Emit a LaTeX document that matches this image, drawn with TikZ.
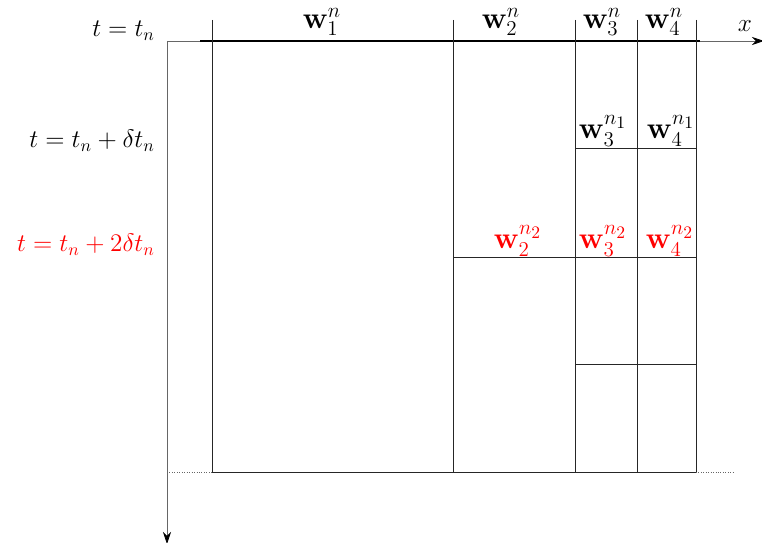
\documentclass[tikz,border=0pt]{standalone}
\usepackage{amsmath,amssymb}
\usepackage{xcolor}
\usepackage{tikz}
\usetikzlibrary{arrows.meta,positioning}

\begin{document}
\begin{tikzpicture}[
  x=0.02cm,y=-0.02cm,
  axis/.style={-{Stealth[length=2.4mm,width=1.6mm,black]},thin,black!60},
  cell/.style={draw=black!85,thin},
  edge/.style={draw=black,semithick},
  lab/.style={font=\Large,inner sep=1pt},
  wlab/.style={font=\LARGE,inner sep=1pt},
  newlab/.style={wlab,text=red}
]
\useasboundingbox (0,0) rectangle (762,543);
% axes
\coordinate (o) at (167,41);
\coordinate (xend) at (764,41);
\coordinate (tend) at (167,544);
\draw[axis] (o) -- (xend);
\draw[axis] (o) -- (tend);
\node[lab] (xlab) at (745,26) {$x$};
% top edge and bottom line
\coordinate (top1) at (200,41);
\coordinate (top2) at (700,41);
\draw[edge] (top1) -- (top2);
\coordinate (bot0) at (167,472);
\coordinate (bot9) at (733,472);
\draw[black!60,densely dotted] (bot0) -- (bot9);
\draw[cell] (212,472) -- (696,472);
% cell boundaries
\foreach \xx/\nm in {212/a,453/b,575/c,637/d,696/e}{
  \coordinate (\nm top) at (\xx,20);
  \coordinate (\nm bot) at (\xx,472);
  \draw[cell] (\nm top) -- (\nm bot);
}
% sub steps
\draw[cell] (575,148) -- (696,148);
\draw[cell] (453,257) -- (696,257);
\draw[cell] (575,364) -- (696,364);
% time labels
\node[lab,anchor=east] (t0) at (157,31) {$t=t_n$};
\node[lab,anchor=east] (t1) at (157,141) {$t=t_n+\delta t_n$};
\node[lab,text=red,anchor=east] (t2) at (157,245) {$t=t_n+2\delta t_n$};
% states
\node[wlab] (w1) at (322,22) {$\mathbf{w}_1^n$};
\node[wlab] (w2) at (501,22) {$\mathbf{w}_2^n$};
\node[wlab] (w3) at (602,22) {$\mathbf{w}_3^n$};
\node[wlab] (w4) at (664,22) {$\mathbf{w}_4^n$};
\node[wlab] (w31) at (603,131) {$\mathbf{w}_3^{n_1}$};
\node[wlab] (w41) at (671,131) {$\mathbf{w}_4^{n_1}$};
\node[newlab] (w22) at (518,241) {$\mathbf{w}_2^{n_2}$};
\node[newlab] (w32) at (603,241) {$\mathbf{w}_3^{n_2}$};
\node[newlab] (w42) at (670,241) {$\mathbf{w}_4^{n_2}$};
\end{tikzpicture}
\end{document}
